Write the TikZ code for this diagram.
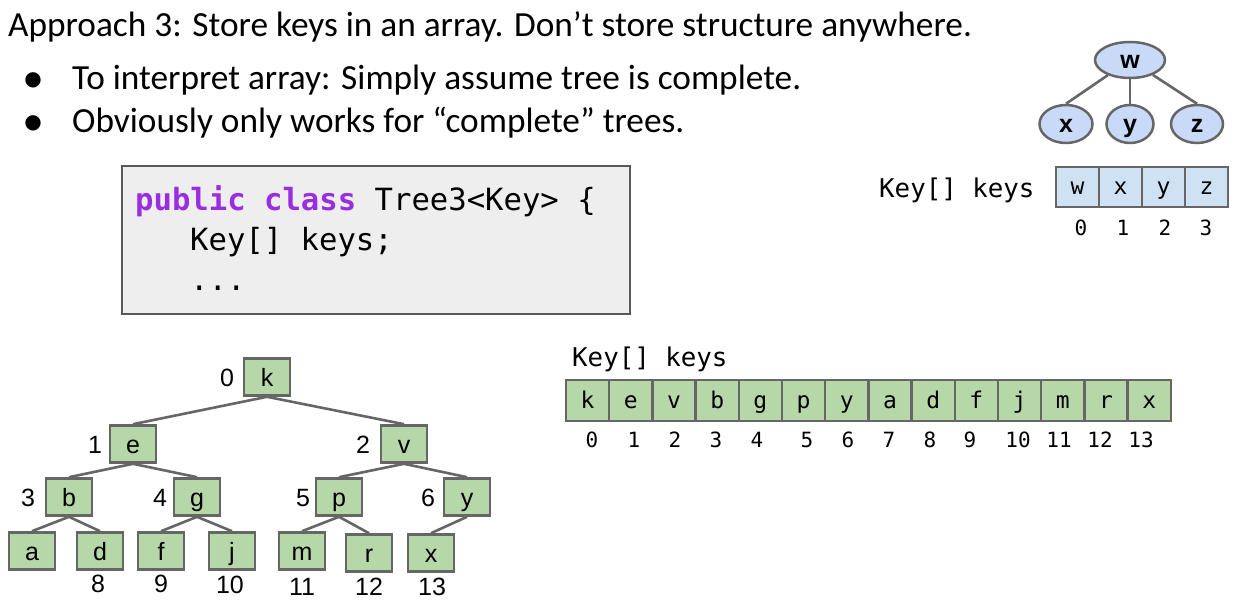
\documentclass[tikz,border=0pt]{standalone}
\usepackage{fontspec}
\usetikzlibrary{shapes.geometric}
\setmainfont{Carlito}
\newfontfamily\arialf{Liberation Sans}
\newfontfamily\monof{DejaVu Sans Mono}
\newfontfamily\dejav{DejaVu Sans}
\definecolor{gborder}{HTML}{666666}
\definecolor{gfill}{HTML}{B6D7A8}
\definecolor{bfill}{HTML}{C9DAF8}
\definecolor{afill}{HTML}{CFE2F3}
\definecolor{codebg}{HTML}{EEEEEE}
\definecolor{codeborder}{HTML}{595959}
\definecolor{kw}{RGB}{155,45,225}
\tikzset{
  txt/.style={inner sep=0, anchor=base west},
  treebox/.style={draw=gborder, line width=2.6, fill=gfill, minimum width=46, minimum height=37, inner sep=0,
    font=\arialf\fontsize{25}{30}\selectfont, text height=19, text depth=0},
  idx/.style={inner sep=0, font=\arialf\fontsize{25}{30}\selectfont, text height=19, text depth=0},
  edge/.style={draw=gborder, line width=2.6},
  cell/.style={draw=gborder, line width=2.4, minimum width=43.2, minimum height=41, inner sep=0,
    font=\monof\fontsize{23}{28}\selectfont, text height=16, text depth=0},
  gcell/.style={cell, fill=gfill},
  bcell/.style={cell, fill=afill, minimum width=43, minimum height=40},
  aidx/.style={inner sep=0, font=\monof\fontsize{21}{25}\selectfont, text height=15, text depth=0},
  oval/.style={ellipse, draw=gborder, line width=2.5, fill=bfill, inner sep=0,
    font=\arialf\bfseries\fontsize{25}{30}\selectfont, text height=17, text depth=0},
  bullet/.style={inner sep=0, font=\dejav\fontsize{20}{24}\selectfont},
  heading/.style={inner sep=0, anchor=base west, font=\fontsize{35.3}{42}\selectfont},
  code/.style={inner sep=0, anchor=base west, font=\monof\fontsize{30.6}{36}\selectfont},
  keylbl/.style={inner sep=0, anchor=base west, font=\monof\fontsize{25.8}{30}\selectfont}
}
\begin{document}
\begin{tikzpicture}[x=1pt,y=-1pt]
\useasboundingbox (0,0) rectangle (1237,601);
\fill[white] (0,0) rectangle (1237,601);

% heading and bullets
\node[heading] (title) at (8,37) {Approach 3: Store keys in an array. Don’t store structure anywhere.};
\node[bullet] (b1) at (33,80) {●};
\node[bullet] (b2) at (33,123) {●};
\node[heading] (l1) at (72,90) {To interpret array: Simply assume tree is complete.};
\node[heading] (l2) at (72,133) {Obviously only works for “complete” trees.};

% code box
\draw[fill=codebg, draw=codeborder, line width=1.5] (122,166) rectangle (630,314);
\node[code] (c1) at (135,211) {\textcolor{kw}{\bfseries public class} Tree3<Key> \{};
\node[code] (c2) at (190,251) {Key[] keys;};
\node[code] (c3) at (190,291) {...};

% top-right tree
\node[oval, minimum width=70, minimum height=36] (w) at (1130,60) {w};
\node[oval, minimum width=53, minimum height=38] (x) at (1066,124) {x};
\node[oval, minimum width=47, minimum height=38] (y) at (1130,124) {y};
\node[oval, minimum width=52, minimum height=38] (z) at (1197,124) {z};
\draw[edge] (w) -- (x.north);
\draw[edge] (w) -- (y.north);
\draw[edge] (w) -- (z.north);

% top-right array
\node[keylbl] (tk) at (879,198) {Key[] keys};
\node[bcell] (t0) at (1077.5,187) {w};
\node[bcell] (t1) at (1120.5,187) {x};
\node[bcell] (t2) at (1163.5,187) {y};
\node[bcell] (t3) at (1206.5,187) {z};
\node[aidx] (ti0) at (1081,228) {0};
\node[aidx] (ti1) at (1123,228) {1};
\node[aidx] (ti2) at (1165,228) {2};
\node[aidx] (ti3) at (1206,228) {3};

% bottom tree
\node[treebox] (k) at (267,377) {k};
\node[treebox] (e) at (133,444) {e};
\node[treebox] (v) at (404,444) {v};
\node[treebox] (b) at (69,497) {b};
\node[treebox] (g) at (197,497) {g};
\node[treebox] (p) at (339,497) {p};
\node[treebox] (yy) at (467,497) {y};
\node[treebox] (a) at (32,551) {a};
\node[treebox] (d) at (100,551) {d};
\node[treebox] (f) at (161,551) {f};
\node[treebox] (j) at (232,551) {j};
\node[treebox] (m) at (302,551) {m};
\node[treebox] (r) at (369,553) {r};
\node[treebox] (xx) at (431,553) {x};
\draw[edge] (k.south) -- (e.north);
\draw[edge] (k.south) -- (v.north);
\draw[edge] (e.south) -- (b.north);
\draw[edge] (e.south) -- (g.north);
\draw[edge] (v.south) -- (p.north);
\draw[edge] (v.south) -- (yy.north);
\draw[edge] (b.south) -- (a.north);
\draw[edge] (b.south) -- (d.north);
\draw[edge] (g.south) -- (f.north);
\draw[edge] (g.south) -- (j.north);
\draw[edge] (p.south) -- (m.north);
\draw[edge] (p.south) -- (r.north);
\draw[edge] (yy.south) -- (xx.north);
\node[idx] (n0) at (227,377) {0};
\node[idx] (n1) at (95,444) {1};
\node[idx] (n2) at (363,444) {2};
\node[idx] (n3) at (28,497) {3};
\node[idx] (n4) at (160,497) {4};
\node[idx] (n5) at (303,497) {5};
\node[idx] (n6) at (428,497) {6};
\node[idx] (n8) at (98,583) {8};
\node[idx] (n9) at (161,583) {9};
\node[idx] (n10) at (230,584) {10};
\node[idx] (n11) at (302,586) {11};
\node[idx] (n12) at (369,586) {12};
\node[idx] (n13) at (432,586) {13};

% bottom array
\node[keylbl] (bk) at (572,367) {Key[] keys};
\foreach \ch [count=\i from 0] in {k,e,v,b,g,p,y,a,d,f,j,m,r,x} {
  \node[gcell] (c\i) at ({587.6+43.2*\i},400.5) {\ch};
}
\foreach \n/\px in {0/592,1/634,2/675,3/716,4/757,5/807,6/848,7/889,8/930,9/970,10/1018,11/1059,12/1100,13/1141} {
  \node[aidx] (ai\n) at (\px,440) {\n};
}
\end{tikzpicture}
\end{document}
